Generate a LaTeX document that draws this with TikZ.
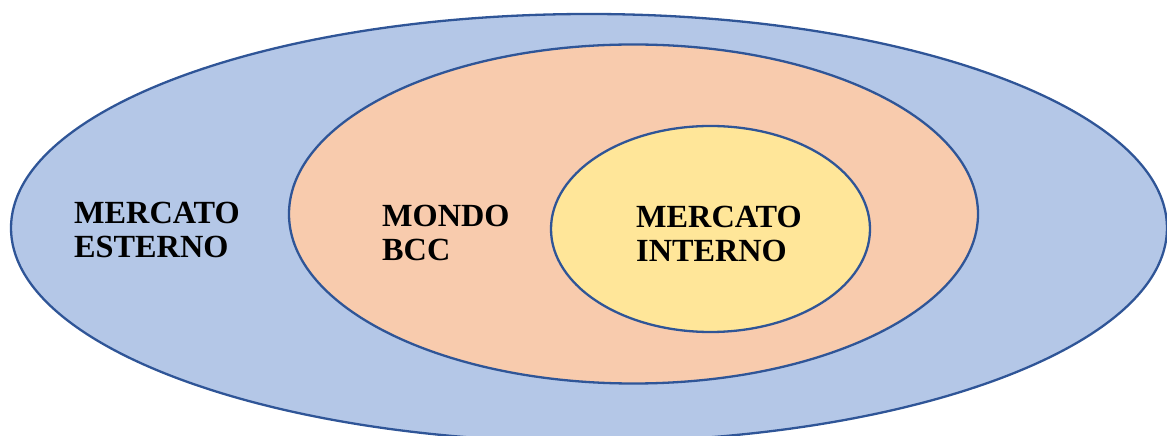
\documentclass[tikz,border=0pt]{standalone}
\usepackage{fontspec}
\setmainfont{Liberation Serif}
\usetikzlibrary{shapes.geometric}
\definecolor{edgeblue}{HTML}{2F5597}
\definecolor{outerfill}{HTML}{B4C7E7}
\definecolor{midfill}{HTML}{F8CBAD}
\definecolor{innerfill}{HTML}{FFE699}
\tikzset{
  ring/.style={ellipse, draw=edgeblue, line width=2.3bp, inner sep=0pt, outer sep=0pt},
  lbl/.style={anchor=base west, align=left, inner sep=0pt, font=\fontsize{32.4}{35}\selectfont\bfseries, text=black}
}
\begin{document}
\begin{tikzpicture}[x=1bp, y=-1bp]
\useasboundingbox (0,0) rectangle (1167,436);
\begin{scope}
\clip (0,0) rectangle (1167,436);
\node[ring, fill=outerfill, minimum width=1156bp, minimum height=428bp] (outer) at (589,228) {};
\node[ring, fill=midfill, minimum width=689bp, minimum height=339bp] (mid) at (633.5,214) {};
\node[ring, fill=innerfill, minimum width=319bp, minimum height=206bp] (inner) at (710.5,229) {};
\end{scope}
\node[lbl] (esterno) at (74,258) {MERCATO\\ESTERNO};
\node[lbl] (mondo) at (382,261) {MONDO\\BCC};
\node[lbl] (interno) at (636,262) {MERCATO\\INTERNO};
\end{tikzpicture}
\end{document}
